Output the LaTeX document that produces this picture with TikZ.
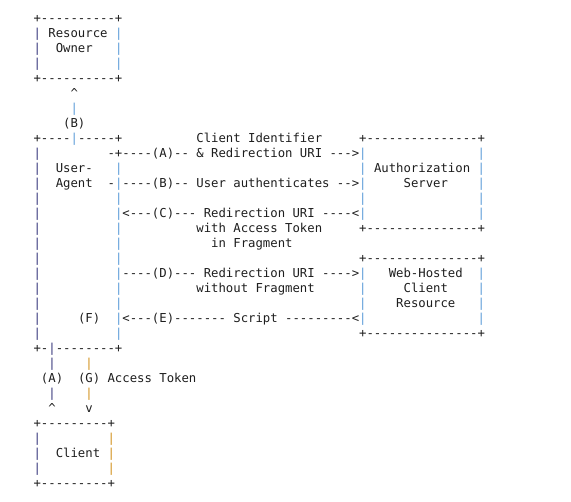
\documentclass[tikz,border=0pt]{standalone}
\usepackage{fontspec}
% monospaced face without TeX ligatures, so "--" stays two hyphens
\setmonofont{DejaVu Sans Mono}
\definecolor{ink}{HTML}{1E1E1E}
\definecolor{pipedark}{HTML}{34347A}
\definecolor{pipeblue}{HTML}{5A9BD8}
\definecolor{pipeorange}{HTML}{D2901A}
\begin{document}
\begin{tikzpicture}[x=1pt,y=1pt,
  ch/.style={anchor=base west, inner sep=0pt, outer sep=0pt, text=ink,
             font=\ttfamily\fontsize{12.29}{15}\selectfont},
  pd/.style={ch, text=pipedark},
  pb/.style={ch, text=pipeblue},
  po/.style={ch, text=pipeorange}]
\fill[white] (0,0) rectangle (571,502);
\useasboundingbox (0,0) rectangle (571,502);
% character grid: x = column, y = text row
\begin{scope}[shift={(33.6pt,479pt)}, x=7.4pt, y=-15pt]
  % Resource Owner
  \node[ch] (ro-top) at (0,0) {+----------+};
  \foreach \r in {1,2,3} {
    \node[pd] (ro-l\r) at (0,\r) {|};
    \node[pb] (ro-r\r) at (11,\r) {|};
  }
  \node[ch] (ro-name1) at (2,1) {Resource};
  \node[ch] (ro-name2) at (3,2) {Owner};
  \node[ch] (ro-bot) at (0,4) {+----------+};
  % (B) towards the owner
  \node[ch] (b-tip) at (5,5) {\textasciicircum};
  \node[pb] (b-bar) at (5,6) {|};
  \node[ch] (b-lab) at (4,7) {(B)};
  % User-Agent
  \node[ch] (ua-top1) at (0,8) {+----};
  \node[pb] (ua-topbar) at (5,8) {|};
  \node[ch] (ua-top2) at (6,8) {-----+};
  \foreach \r in {9,...,21} {
    \node[pd] (ua-l\r) at (0,\r) {|};
  }
  \foreach \r in {10,...,21} {
    \node[pb] (ua-r\r) at (11,\r) {|};
  }
  \node[ch] (ua-name1) at (3,10) {User-};
  \node[ch] (ua-name2) at (3,11) {Agent};
  \node[ch] (ua-stub) at (10,11) {-};
  \node[ch] (f-lab) at (6,20) {(F)};
  \node[ch] (ua-bot1) at (0,22) {+-};
  \node[pd] (ua-botbar) at (2,22) {|};
  \node[ch] (ua-bot2) at (3,22) {--------+};
  % Authorization Server
  \node[ch] (as-top) at (44,8) {+---------------+};
  \foreach \r in {9,...,13} {
    \node[pb] (as-l\r) at (44,\r) {|};
    \node[pb] (as-r\r) at (60,\r) {|};
  }
  \node[ch] (as-name1) at (46,10) {Authorization};
  \node[ch] (as-name2) at (50,11) {Server};
  \node[ch] (as-bot) at (44,14) {+---------------+};
  % Web-Hosted Client Resource
  \node[ch] (wh-top) at (44,16) {+---------------+};
  \foreach \r in {17,...,20} {
    \node[pb] (wh-l\r) at (44,\r) {|};
    \node[pb] (wh-r\r) at (60,\r) {|};
  }
  \node[ch] (wh-name1) at (48,17) {Web-Hosted};
  \node[ch] (wh-name2) at (50,18) {Client};
  \node[ch] (wh-name3) at (49,19) {Resource};
  \node[ch] (wh-bot) at (44,21) {+---------------+};
  % flows between the user-agent and the servers
  \node[ch] (a-lab1) at (22,8) {Client Identifier};
  \node[ch] (a-msg) at (10,9) {-+----(A)-- \& Redirection URI --->};
  \node[ch] (b-msg) at (12,11) {----(B)-- User authenticates -->};
  \node[ch] (c-msg) at (12,13) {<---(C)--- Redirection URI ----<};
  \node[ch] (c-lab2) at (22,14) {with Access Token};
  \node[ch] (c-lab3) at (24,15) {in Fragment};
  \node[ch] (d-msg) at (12,17) {----(D)--- Redirection URI ---->};
  \node[ch] (d-lab2) at (22,18) {without Fragment};
  \node[ch] (e-msg) at (12,20) {<---(E)------- Script ---------<};
  % (A) and (G) between the user-agent and the client
  \foreach \r in {23,25} {
    \node[pd] (a-bar\r) at (2,\r) {|};
    \node[po] (g-bar\r) at (7,\r) {|};
  }
  \node[ch] (a-lab) at (1,24) {(A)};
  \node[ch] (g-lab) at (6,24) {(G) Access Token};
  \node[ch] (a-tip) at (2,26) {\textasciicircum};
  \node[ch] (g-tip) at (7,26) {v};
  % Client
  \node[ch] (cl-top) at (0,27) {+---------+};
  \foreach \r in {28,29,30} {
    \node[pd] (cl-l\r) at (0,\r) {|};
    \node[po] (cl-r\r) at (10,\r) {|};
  }
  \node[ch] (cl-name) at (3,29) {Client};
  \node[ch] (cl-bot) at (0,31) {+---------+};
\end{scope}
\end{tikzpicture}
\end{document}
